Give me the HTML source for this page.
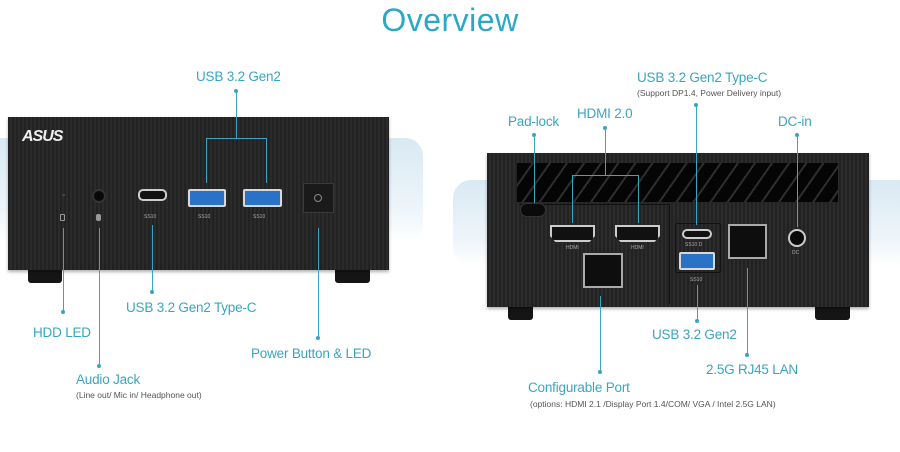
<!DOCTYPE html>
<html><head><meta charset="utf-8"><style>
*{margin:0;padding:0;box-sizing:border-box}
body{width:900px;height:452px;background:#fff;position:relative;overflow:hidden;font-family:"Liberation Sans",sans-serif}
.a{position:absolute}
.t{position:absolute;color:#3aa5c2;font-size:13.5px;white-space:nowrap;letter-spacing:-0.2px}
.s{position:absolute;color:#555;font-size:8.5px;white-space:nowrap}
.v{position:absolute;width:1px;background:#3aa5c2}
.h{position:absolute;height:1px;background:#3aa5c2}
.d{position:absolute;width:4px;height:4px;border-radius:2px;background:#3aa5c2}
.dev{position:absolute;background:repeating-linear-gradient(90deg,#222 0 2px,#2b2b2b 2px 4px);box-shadow:0 2px 3px rgba(0,0,0,.3)}
.foot{position:absolute;background:#151515;border-radius:0 0 3px 3px}
.usba{position:absolute;background:#2a72c8;border:2px solid #d8d8d8;border-radius:2px}
.usbc{position:absolute;border:2px solid #ccc;border-radius:5px;background:#111}
.hdmi{position:absolute;border:2px solid #ccc;background:#111;clip-path:polygon(0 0,100% 0,100% 65%,88% 100%,12% 100%,0 65%)}
.rj{position:absolute;background:#0e0e0e;border:2px solid #aaa}
.lb{position:absolute;color:#aaa;font-size:5px}
</style></head><body>
<div class="a" style="left:0;top:0;width:900px;text-align:center;top:2px;font-size:32px;color:#2ba8c6;letter-spacing:0.5px">Overview</div>

<!-- bg panels -->
<div class="a" style="left:-20px;top:138px;width:443px;height:104px;border-radius:0 18px 18px 0;background:linear-gradient(180deg,#d9e9f3,#eef5fa 70%,#fff)"></div>
<div class="a" style="left:453px;top:180px;width:470px;height:86px;border-radius:18px 0 0 18px;background:linear-gradient(180deg,#d9e9f3,#eef5fa 70%,#fff)"></div>

<!-- left device -->
<div class="foot" style="left:28px;top:268px;width:34px;height:15px"></div>
<div class="foot" style="left:335px;top:268px;width:35px;height:15px"></div>
<div class="dev" style="left:8px;top:117px;width:381px;height:153px"></div>
<div class="a" style="left:22px;top:128px;color:#eee;font-size:16px;font-weight:bold;font-style:italic;letter-spacing:-1px">ASUS</div>
<div class="a" style="left:62px;top:194px;width:3px;height:2px;background:#444"></div>
<div class="a" style="left:60px;top:214px;width:5px;height:7px;border:1px solid #999;border-radius:1px"></div>
<div class="a" style="left:92px;top:189px;width:14px;height:14px;border-radius:7px;background:#080808;border:2px solid #333"></div>
<div class="a" style="left:96px;top:214px;width:5px;height:7px;background:#999;border-radius:2px"></div>
<div class="usbc" style="left:138px;top:189px;width:29px;height:12px"></div>
<div class="usba" style="left:188px;top:189px;width:38px;height:18px"></div>
<div class="usba" style="left:243px;top:189px;width:39px;height:18px"></div>
<div class="lb" style="left:144px;top:214px">SS10</div><div class="lb" style="left:198px;top:214px">SS10</div><div class="lb" style="left:253px;top:214px">SS10</div>
<div class="a" style="left:303px;top:183px;width:31px;height:30px;background:#1a1a1a;border:1px solid #3a3a3a"></div>
<div class="a" style="left:314px;top:194px;width:8px;height:8px;border:1px solid #888;border-radius:4px"></div>

<!-- left connectors -->
<div class="t" style="left:196px;top:69px">USB 3.2 Gen2</div>
<div class="d" style="left:234px;top:89px"></div>
<div class="v" style="left:236px;top:91px;height:47px"></div>
<div class="h" style="left:206px;top:138px;width:61px"></div>
<div class="v" style="left:206px;top:138px;height:45px"></div>
<div class="v" style="left:266px;top:138px;height:45px"></div>
<div class="v" style="left:63px;top:228px;height:84px"></div><div class="d" style="left:61px;top:310px"></div>
<div class="t" style="left:33px;top:325px">HDD LED</div>
<div class="v" style="left:99px;top:228px;height:138px"></div><div class="d" style="left:97px;top:364px"></div>
<div class="t" style="left:76px;top:372px">Audio Jack</div>
<div class="s" style="left:76px;top:390px">(Line out/ Mic in/ Headphone out)</div>
<div class="v" style="left:152px;top:225px;height:67px"></div><div class="d" style="left:150px;top:290px"></div>
<div class="t" style="left:126px;top:300px">USB 3.2 Gen2 Type-C</div>
<div class="v" style="left:318px;top:228px;height:110px"></div><div class="d" style="left:316px;top:336px"></div>
<div class="t" style="left:251px;top:346px">Power Button &amp; LED</div>

<!-- right device -->
<div class="foot" style="left:508px;top:305px;width:25px;height:15px"></div>
<div class="foot" style="left:815px;top:305px;width:35px;height:15px"></div>
<div class="dev" style="left:487px;top:153px;width:382px;height:154px"></div>
<div class="a" style="left:517px;top:163px;width:321px;height:39px;background:repeating-linear-gradient(125deg,#050505 0 12px,#2e2e2e 12px 14px)"></div>
<div class="a" style="left:520px;top:204px;width:150px;height:100px;border-top:1px solid #111;border-right:1px solid #111"></div>
<div class="a" style="left:520px;top:203px;width:26px;height:14px;border-radius:7px;background:#0a0a0a;border:1px solid #333"></div>
<div class="hdmi" style="left:550px;top:225px;width:45px;height:17px"></div>
<div class="hdmi" style="left:615px;top:225px;width:45px;height:17px"></div>
<div class="lb" style="left:566px;top:245px">HDMI</div><div class="lb" style="left:631px;top:245px">HDMI</div>
<div class="rj" style="left:583px;top:253px;width:40px;height:35px"></div>
<div class="a" style="left:675px;top:223px;width:46px;height:50px;border:1px solid #111;border-radius:3px"></div>
<div class="usbc" style="left:682px;top:229px;width:30px;height:10px"></div>
<div class="lb" style="left:685px;top:242px">SS10 D</div>
<div class="usba" style="left:679px;top:252px;width:36px;height:18px"></div>
<div class="lb" style="left:690px;top:277px">SS10</div>
<div class="rj" style="left:728px;top:224px;width:39px;height:35px"></div>
<div class="a" style="left:788px;top:229px;width:18px;height:18px;border-radius:9px;background:#0a0a0a;border:2px solid #ccc"></div>
<div class="lb" style="left:792px;top:250px">DC</div>

<!-- right connectors -->
<div class="t" style="left:637px;top:70px">USB 3.2 Gen2 Type-C</div>
<div class="s" style="left:637px;top:88px">(Support DP1.4, Power Delivery input)</div>
<div class="d" style="left:694px;top:103px"></div><div class="v" style="left:696px;top:105px;height:120px"></div>
<div class="t" style="left:508px;top:114px">Pad-lock</div>
<div class="d" style="left:532px;top:133px"></div><div class="v" style="left:534px;top:135px;height:68px"></div>
<div class="t" style="left:577px;top:106px">HDMI 2.0</div>
<div class="d" style="left:603px;top:126px"></div><div class="v" style="left:605px;top:128px;height:47px"></div>
<div class="h" style="left:572px;top:175px;width:67px"></div>
<div class="v" style="left:572px;top:175px;height:48px"></div><div class="v" style="left:638px;top:175px;height:48px"></div>
<div class="t" style="left:778px;top:114px">DC-in</div>
<div class="d" style="left:795px;top:133px"></div><div class="v" style="left:797px;top:135px;height:92px"></div>
<div class="v" style="left:697px;top:285px;height:36px"></div><div class="d" style="left:695px;top:319px"></div>
<div class="t" style="left:652px;top:327px">USB 3.2 Gen2</div>
<div class="v" style="left:747px;top:268px;height:87px"></div><div class="d" style="left:745px;top:353px"></div>
<div class="t" style="left:706px;top:362px">2.5G RJ45 LAN</div>
<div class="v" style="left:600px;top:296px;height:76px"></div><div class="d" style="left:598px;top:370px"></div>
<div class="t" style="left:528px;top:380px">Configurable Port</div>
<div class="s" style="left:530px;top:399px">(options: HDMI 2.1 /Display Port 1.4/COM/ VGA / Intel 2.5G LAN)</div>
</body></html>
